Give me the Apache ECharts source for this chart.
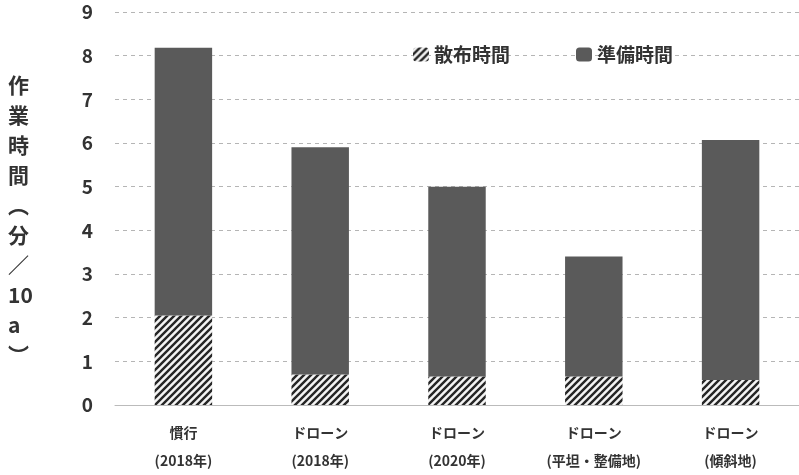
<!DOCTYPE html>
<html>
<head>
<meta charset="utf-8">
<script src="https://cdn.jsdelivr.net/npm/echarts@6/dist/echarts.min.js"></script>
<style>
  html, body { margin: 0; padding: 0; background: #fff; }
  #main { width: 799px; height: 475px; }
</style>
</head>
<body>
<div id="main"></div>
<script>
const categories = ['慣行\n(2018年)', 'ドローン\n(2018年)', 'ドローン\n(2020年)', 'ドローン\n(平坦・整備地)', 'ドローン\n(傾斜地)']
const sprayTime = [2.05, 0.7, 0.65, 0.65, 0.57]
const prepTime = [6.13, 5.2, 4.35, 2.75, 5.5]
const yTicks = [0, 1, 2, 3, 4, 5, 6, 7, 8, 9]

const font = '"Noto Sans CJK JP", sans-serif'

// hatch pattern for the bottom part
const hatch = document.createElement('canvas')
hatch.width = 7
hatch.height = 7
const ctx = hatch.getContext('2d')
ctx.fillStyle = '#f4f4f4'
ctx.fillRect(0, 0, 7, 7)
ctx.strokeStyle = '#262626'
ctx.lineWidth = 2.4
ctx.beginPath()
ctx.moveTo(-1, 8); ctx.lineTo(8, -1)
ctx.moveTo(-1, 1); ctx.lineTo(1, -1)
ctx.moveTo(6, 8); ctx.lineTo(8, 6)
ctx.stroke()

const myChart = echarts.init(document.getElementById('main'))
const option = {
    animation: false,
    backgroundColor: '#fff',
    textStyle: { fontFamily: font },
    legend: {
        top: 40,
        left: 408,
        itemGap: 66,
        itemWidth: 16,
        itemHeight: 14,
        textStyle: { fontSize: 19, fontWeight: 'bold', color: '#333', fontFamily: font },
        data: ['散布時間', '準備時間']
    },
    grid: { left: 115, right: -6, top: 12, bottom: 67 },
    xAxis: {
        type: 'category',
        data: categories,
        axisTick: { show: false },
        axisLine: { lineStyle: { color: '#bbb' } },
        axisLabel: {
            fontSize: 14, fontWeight: 'bold', color: '#333', lineHeight: 28, margin: 14
        }
    },
    yAxis: {
        type: 'value',
        min: 0,
        max: 9,
        interval: 1,
        axisLine: { show: false },
        axisTick: { show: false },
        axisLabel: {
            fontSize: 19, fontWeight: 'bold', color: '#333', margin: 22,
            formatter: (v) => yTicks.includes(v) ? String(v) : ''
        },
        splitLine: { lineStyle: { color: '#b5b5b5', type: [4, 4], width: 1 } }
    },
    graphic: [{
        type: 'text',
        left: 8,
        top: 70,
        style: {
            text: '作\n業\n時\n間\n︵\n分\n／\n10\na\n︶',
            fontSize: 21,
            fontWeight: 'bold',
            lineHeight: 30,
            fill: '#333',
            align: 'center',
            fontFamily: font
        }
    }],
    series: [
        {
            name: '散布時間',
            type: 'bar',
            stack: 'total',
            barWidth: '42%',
            itemStyle: { color: { image: hatch, repeat: 'repeat' } },
            data: sprayTime
        },
        {
            name: '準備時間',
            type: 'bar',
            stack: 'total',
            barWidth: '42%',
            itemStyle: { color: '#5a5a5a' },
            data: prepTime
        }
    ]
}
myChart.setOption(option)
</script>
</body>
</html>
